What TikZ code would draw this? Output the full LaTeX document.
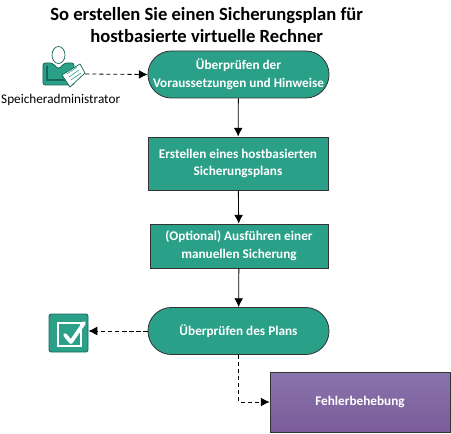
\documentclass[tikz,border=0pt]{standalone}
\usepackage{fontspec}
\setmainfont{Carlito}
\usepackage{tikz}
\usetikzlibrary{arrows.meta}
\definecolor{tealfill}{HTML}{2AA088}
\definecolor{tealdark}{HTML}{17685A}
\definecolor{violettop}{HTML}{8A74AC}
\definecolor{violetbot}{HTML}{7A5C9A}
\tikzset{
    labeltext/.style={text=white, font=\bfseries\fontsize{11.3}{15.3}\selectfont, align=center, inner sep=0pt},
    term/.style={rectangle, rounded corners=0.7cm, draw=black!80, line width=0.7pt, fill=tealfill, labeltext, minimum width=5.43cm, minimum height=1.41cm},
    stepbox/.style={rectangle, draw=black!80, line width=0.7pt, fill=tealfill, labeltext},
    flow/.style={-{Latex[length=7.5pt,width=7.5pt]}, line width=0.7pt},
    dashflow/.style={flow, dash pattern=on 3.5pt off 2.5pt},
    px/.style={x=0.03cm, y=-0.03cm}
}
\begin{document}
\begin{tikzpicture}
    \useasboundingbox (0,0) rectangle (13.53,-13.02);
    % Title
    \node[font=\bfseries\fontsize{15.9}{18.9}\selectfont, align=center, inner sep=0pt] (title) at (6.2,-0.76) {So erstellen Sie einen Sicherungsplan für\\hostbasierte virtuelle Rechner};
    % Nodes
    \node[term] (check) at (7.155,-2.235) {Überprüfen der\\Voraussetzungen und Hinweise};
    \node[stepbox, minimum width=5.4cm, minimum height=1.59cm] (create) at (7.14,-4.905) {Erstellen eines hostbasierten\\Sicherungsplans};
    \node[stepbox, minimum width=5.34cm, minimum height=1.32cm] (manual) at (7.17,-7.38) {(Optional) Ausführen einer\\manuellen Sicherung};
    \node[term] (review) at (7.155,-9.93) {Überprüfen des Plans};
    \node[rectangle, draw=black!80, line width=0.7pt, top color=violettop, bottom color=violetbot, labeltext, minimum width=5.4cm, minimum height=1.8cm] (fix) at (10.8,-12.06) {Fehlerbehebung};
    % Admin icon
    \node[inner sep=0pt, minimum width=1.26cm, minimum height=1.26cm] (admin) at (1.92,-2.22) {};
    \begin{scope}[px]
        \draw[tealdark, line width=0.6pt, fill=white] (58.5,55) ellipse (6.5 and 8.5);
        \draw[tealdark, line width=0.7pt, fill=tealfill, rounded corners=2pt] (43,85) -- (43,63) -- (52,63) -- (58.5,69) -- (65,63) -- (74,63) -- (74,85) -- cycle;
        \draw[tealdark, line width=1.2pt] (47,66) -- (47,80) -- (66,80);
        \draw[tealdark, line width=0.6pt, fill=white] (80,64) -- (85,73) -- (70,87) -- (62,75) -- cycle;
        \foreach \i in {0,1,2}
            \draw[tealfill, line width=0.5pt] (67+2*\i,74+3*\i) -- (77+2*\i,67+3*\i);
    \end{scope}
    \node[font=\fontsize{11.3}{13}\selectfont, inner sep=0pt] (adminlabel) at (1.82,-3.0) {Speicheradministrator};
    % Done icon
    \node[rectangle, rounded corners=2pt, draw=tealdark, line width=0.8pt, fill=tealfill, minimum width=1.17cm, minimum height=1.14cm, inner sep=0pt] (done) at (2.055,-9.99) {};
    \begin{scope}[px]
        \draw[white, line width=1pt] (58,323) rectangle (81,346);
        \draw[white, line width=3.2pt, line cap=round, line join=round] (65,335) -- (71,342) -- (84,323);
    \end{scope}
    % Edges
    \draw[dashflow] (admin.east) -- (check.west);
    \draw[flow] (check) -- (create);
    \draw[flow] (create) -- (manual);
    \draw[flow] (manual) -- (review);
    \draw[dashflow] (review.west) -- (review.west -| done.east);
    \draw[dashflow] (review.south) -- (review.south |- fix.west) -- (fix.west);
\end{tikzpicture}
\end{document}
